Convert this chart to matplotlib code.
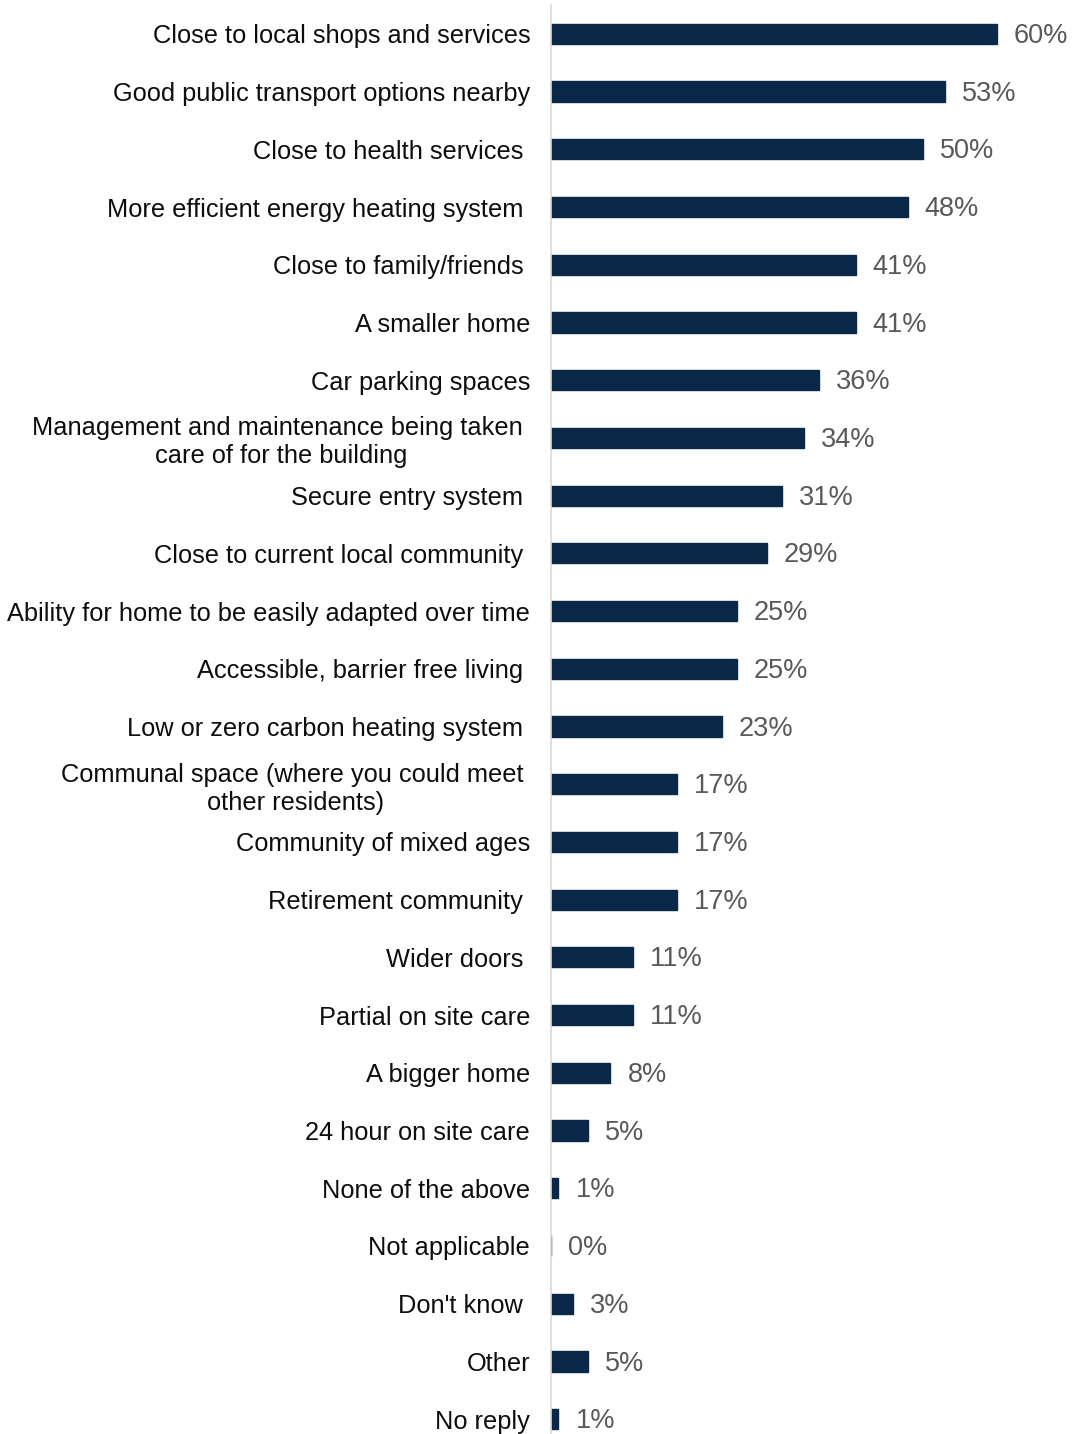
import matplotlib
matplotlib.use("Agg")
import matplotlib.pyplot as plt
import numpy as np

plt.rcParams['font.family'] = ['Liberation Sans', 'DejaVu Sans']

# survey answers, top to bottom
categories = [
    "Close to local shops and services",
    "Good public transport options nearby",
    "Close to health services ",
    "More efficient energy heating system ",
    "Close to family/friends ",
    "A smaller home",
    "Car parking spaces",
    "Management and maintenance being taken \ncare of for the building",
    "Secure entry system ",
    "Close to current local community ",
    "Ability for home to be easily adapted over time",
    "Accessible, barrier free living ",
    "Low or zero carbon heating system ",
    "Communal space (where you could meet \nother residents)",
    "Community of mixed ages",
    "Retirement community ",
    "Wider doors ",
    "Partial on site care",
    "A bigger home",
    "24 hour on site care",
    "None of the above",
    "Not applicable",
    "Don't know ",
    "Other",
    "No reply",
]
percent = [60, 53, 50, 48, 41, 41, 36, 34, 31, 29, 25, 25, 23,
           17, 17, 17, 11, 11, 8, 5, 1, 0, 3, 5, 1]

bar_col = '#0a2948'

fig = plt.figure(figsize=(10.73, 14.34), dpi=100)
ax = fig.add_axes([551 / 1073, -14 / 1434, 522 / 1073, 1443 / 1434])

y = np.arange(len(categories))
ax.barh(y, percent, height=0.35, color=bar_col, edgecolor=bar_col, linewidth=1.0)

for yi, v in zip(y, percent):
    ax.annotate(f"{v}%", (v, yi), xytext=(12.2, -1.5), textcoords='offset points',
                va='center', ha='left', fontsize=19.5, color='#595959')

ax.set_ylim(len(categories) - 0.5, -0.5)
ax.set_xlim(0, 70.2)
ax.set_yticks(y)
ax.set_yticklabels(categories, fontsize=18.3, color='#0d0d0d')
for lbl in ax.get_yticklabels():
    lbl.set_multialignment('center')
ax.tick_params(axis='y', length=0, pad=15)
ax.set_xticks([])

for side in ['top', 'right', 'bottom']:
    ax.spines[side].set_visible(False)
ax.spines['left'].set_color('#d9d9d9')
ax.spines['left'].set_linewidth(1.2)

fig.savefig('out.png', dpi=100)
